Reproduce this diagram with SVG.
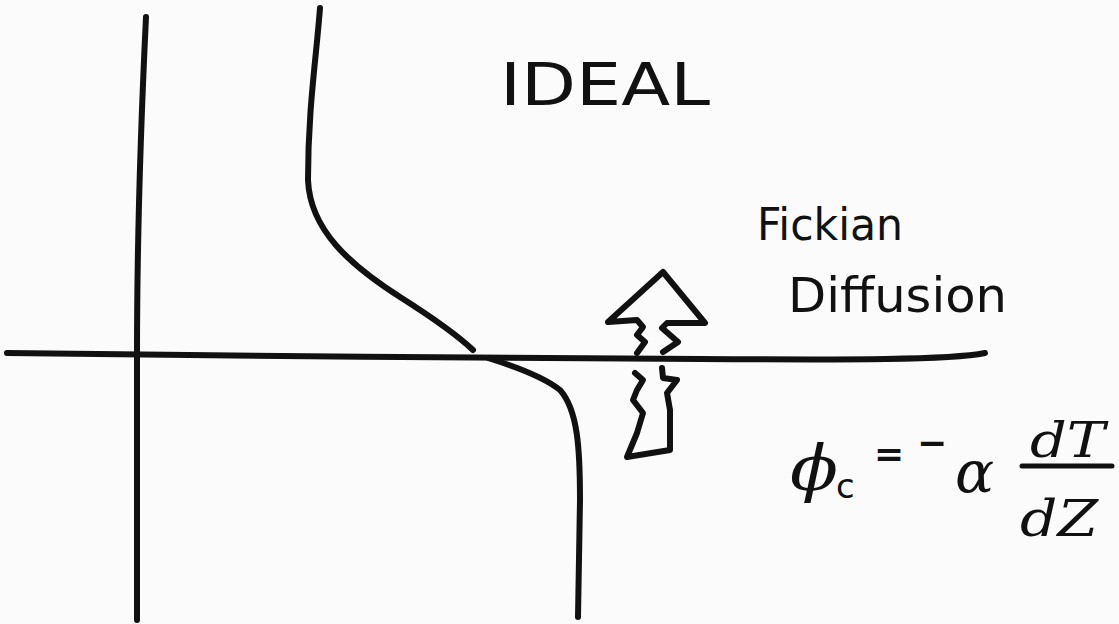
<svg xmlns="http://www.w3.org/2000/svg" width="1119" height="624" viewBox="0 0 1119 624">
  <style>
    .ink { fill: none; stroke: #111; stroke-width: 6; stroke-linecap: round; stroke-linejoin: round; }
    .thin { fill: none; stroke: #111; stroke-width: 5; stroke-linecap: round; stroke-linejoin: round; }
    .hand { font-family: "DejaVu Sans", "Liberation Sans", sans-serif; fill: #111; }
    .math { font-family: "DejaVu Serif", "Liberation Serif", serif; font-style: italic; fill: #111; }
  </style>
  <rect width="1119" height="624" fill="#fbfbfb"/>

  <g id="axes">
    <path class="ink" d="M146,17 C141,120 137,250 137,355 L137,620"/>
    <path class="ink" stroke-width="7" d="M7,353 C200,356 500,358 700,359 C850,360 950,360 985,353"/>
  </g>

  <g id="profile">
    <path class="ink" d="M320,8 C316,60 308,110 308,180 C310,230 350,265 400,297 C430,316 455,333 473,350"/>
    <path class="ink" d="M488,358 C520,368 545,378 560,390 C578,410 580,450 580,500 L578,617"/>
  </g>

  <g id="flux-arrow">
    <path class="ink" d="M637,353 L645,342 L637,335 L643,327 L637,320 L608,322 L663,272 L705,323 L667,323 L662,328 L670,335 L678,342 L663,352"/>
    <path class="ink" d="M662,368 L663,378 L677,380 L667,393 L670,410 L670,450 L627,457 L637,433 L643,413 L633,400 L637,390 L643,380 L635,373"/>
  </g>

  <g id="title">
    <text class="hand" x="500" y="105" font-size="58" textLength="210" lengthAdjust="spacingAndGlyphs">IDEAL</text>
  </g>

  <g id="label">
    <text class="hand" x="757" y="240" font-size="44" textLength="146" lengthAdjust="spacingAndGlyphs">Fickian</text>
    <text class="hand" x="788" y="312" font-size="48" textLength="219" lengthAdjust="spacingAndGlyphs">Diffusion</text>
  </g>

  <g id="equation">
    <text class="math" x="790" y="490" font-size="64" textLength="48" lengthAdjust="spacingAndGlyphs">ϕ</text>
    <text class="hand" x="836" y="498" font-size="34">c</text>
    <text class="hand" x="874" y="466" font-size="36" font-weight="bold">=</text>
    <text class="hand" x="917" y="455" font-size="36" font-weight="bold">−</text>
    <text class="math" x="955" y="492" font-size="58">α</text>
    <text class="math" x="1030" y="457" font-size="48" textLength="75" lengthAdjust="spacingAndGlyphs">dT</text>
    <line class="thin" x1="1022" y1="466" x2="1112" y2="466"/>
    <text class="math" x="1020" y="536" font-size="50" textLength="78" lengthAdjust="spacingAndGlyphs">dZ</text>
  </g>
</svg>
